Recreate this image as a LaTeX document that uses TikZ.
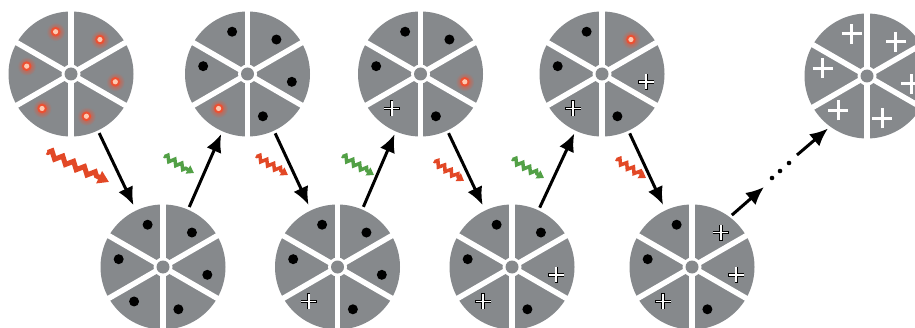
\documentclass[tikz,border=0pt]{standalone}
\usetikzlibrary{arrows.meta,decorations.pathmorphing}

\definecolor{diskgray}{RGB}{134,137,140}
\definecolor{glowred}{RGB}{236,80,50}
\definecolor{peach}{RGB}{255,200,175}
\definecolor{zapred}{RGB}{226,72,38}
\definecolor{zapgreen}{RGB}{82,160,70}

\tikzset{
  wheelnode/.style={circle, minimum size=125pt, inner sep=0pt, outer sep=0pt},
  spoke/.style={white, line width=5.5pt},
  arr/.style={line width=3pt, -{Latex[length=18pt,width=16pt]}},
  downarr/.style={arr, shorten <=3pt, shorten >=6pt},
  uparr/.style={arr, shorten <=3pt, shorten >=3pt},
  zapline/.style={line width=3.5pt, line join=miter,
    decorate, decoration={zigzag, segment length=8pt, amplitude=2.6pt,
      pre length=1pt, post length=6pt},
    -{Triangle[length=7pt,width=9pt]}},
  bigzap/.style={zapline, line width=5pt,
    decoration={zigzag, segment length=12pt, amplitude=3.2pt,
      pre length=1pt, post length=10pt},
    -{Triangle[length=11pt,width=13pt]}},
}

% markers placed inside a sector
\newcommand\wmarkb[1]{\fill[black] (#1) circle (5pt);}
\newcommand\wmarko[1]{%
  \shade[inner color=glowred, outer color=diskgray] (#1) circle (9.5pt);
  \fill[glowred] (#1) circle (4.8pt);
  \fill[peach] (#1) circle (2.6pt);}
\newcommand\wmarkc[1]{%
  \draw[black, line width=3.6pt] (#1) ++(-8pt,0) -- ++(16pt,0) (#1) ++(0,-8pt) -- ++(0,16pt);
  \draw[white, line width=1.9pt] (#1) ++(-7.5pt,0) -- ++(15pt,0) (#1) ++(0,-7.5pt) -- ++(0,15pt);}
\newcommand\wmarkp[1]{%
  \draw[white, line width=3pt] (#1) ++(-10pt,0) -- ++(20pt,0) (#1) ++(0,-10pt) -- ++(0,20pt);}

% a six-sector wheel: name, x, y, markers (UL, UR, R, LR, LL, L)
\newcommand\wheel[4]{%
  \node[wheelnode] (#1) at (#2,#3) {};
  \fill[diskgray] (#1.center) circle (62.5pt);
  \foreach \a in {30,90,...,330} \draw[spoke] (#1.center) -- ++(\a:64pt);
  \fill[white] (#1.center) circle (9.5pt);
  \fill[diskgray] (#1.center) circle (6.5pt);
  \foreach \m [count=\i] in {#4} {
    \pgfmathsetmacro\ang{110-60*(\i-1)}
    \path (#1.center) ++(\ang:45pt) coordinate (#1-\i);
    \csname wmark\m\endcsname{#1-\i}
  }%
}

\begin{document}
\begin{tikzpicture}[x=1pt,y=1pt]
  \clip (0,0) rectangle (915,327);

  % top row
  \wheel{t1}{71}{253}{o,o,o,o,o,o}
  \wheel{t2}{247.5}{253}{b,b,b,b,o,b}
  \wheel{t3}{420.5}{253}{b,b,o,b,c,b}
  \wheel{t4}{602}{253}{b,o,c,b,c,b}
  \wheel{t5}{867}{251}{p,p,p,p,p,p}

  % bottom row
  \wheel{b1}{163}{60}{b,b,b,b,b,b}
  \wheel{b2}{337.5}{60}{b,b,b,b,c,b}
  \wheel{b3}{512}{60}{b,b,c,b,c,b}
  \wheel{b4}{692}{60}{b,c,c,b,c,b}

  % transitions
  \draw[downarr] (t1) -- (b1);
  \draw[uparr]   (b1) -- (t2);
  \draw[downarr] (t2) -- (b2);
  \draw[uparr]   (b2) -- (t3);
  \draw[downarr] (t3) -- (b3);
  \draw[uparr]   (b3) -- (t4);
  \draw[downarr] (t4) -- (b4);

  % continuation towards the last wheel
  \coordinate (m1) at (764,140);
  \coordinate (m2) at (797,172);
  \draw[arr, shorten <=3pt] (b4.53) -- (m1);
  \draw[arr, shorten >=3pt] (m2) -- (t5.234);
  \foreach \p in {(772,149),(780,156),(789,164)} \fill[black] \p circle (2.3pt);

  % light flashes
  \draw[bigzap, zapred]   (47,175)  -- (109,145);
  \draw[zapline, zapgreen] (164,171) -- (194,154);
  \draw[zapline, zapred]   (256,171) -- (288,152);
  \draw[zapline, zapgreen] (342,171) -- (374,152);
  \draw[zapline, zapred]   (434,166) -- (464,146);
  \draw[zapline, zapgreen] (512,168) -- (544,149);
  \draw[zapline, zapred]   (616,168) -- (646,149);
\end{tikzpicture}
\end{document}
